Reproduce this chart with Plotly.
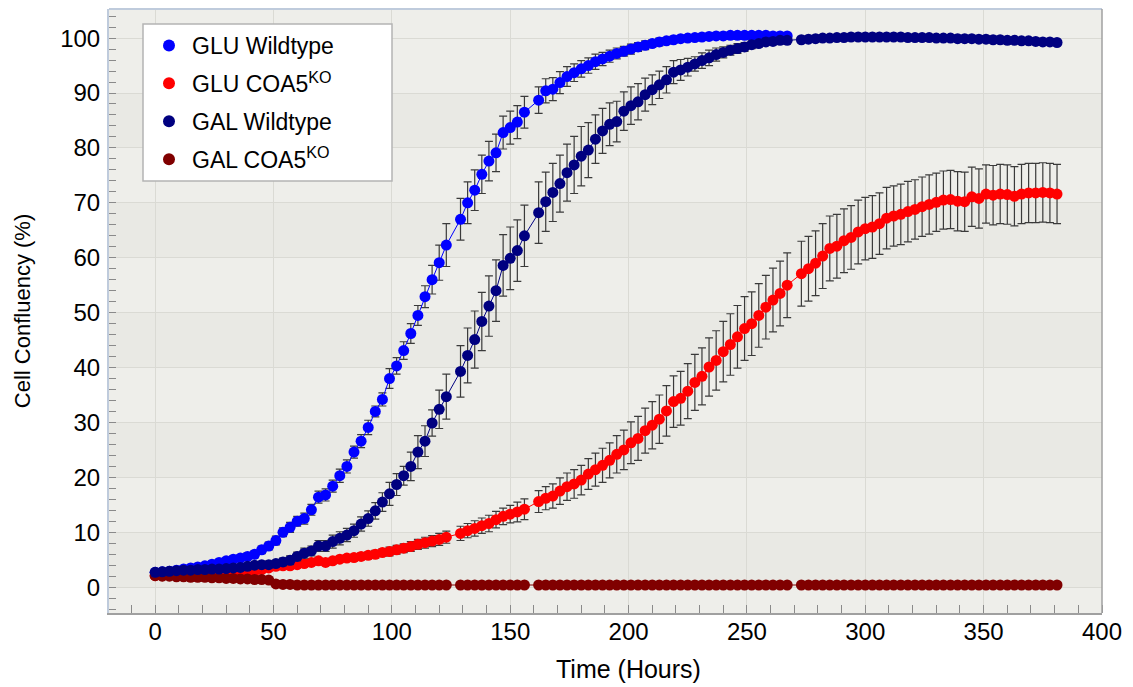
import plotly.graph_objects as go

# ---------------- data ----------------
TIME_HOURS = [0, 3, 6, 9, 12, 15, 18, 21, 24, 27, 30, 33, 36, 39, 42, 45, 48, 51, 54, 57,
              60, 63, 66, 69, 72, 75, 78, 81, 84, 87, 90, 93, 96, 99, 102, 105, 108, 111, 114, 117,
              120, 123, 129, 132, 135, 138, 141, 144, 147, 150, 153, 156, 162, 165, 168, 171, 174, 177, 180, 183,
              186, 189, 192, 195, 198, 201, 204, 207, 210, 213, 216, 219, 222, 225, 228, 231, 234, 237, 240, 243,
              246, 249, 252, 255, 258, 261, 264, 267, 273, 276, 279, 282, 285, 288, 291, 294, 297, 300, 303, 306,
              309, 312, 315, 318, 321, 324, 327, 330, 333, 336, 339, 342, 345, 348, 351, 354, 357, 360, 363, 366,
              369, 372, 375, 378, 381]

TIME_GLU_WT = TIME_HOURS[:88]

glu_wt = [2.7, 2.8, 2.9, 3.1, 3.3, 3.5, 3.7, 3.9, 4.2, 4.5, 4.8, 5.1, 5.3, 5.6, 6.0, 6.8, 7.5, 8.5, 10.0, 10.9,
          12.0, 12.5, 14.1, 16.4, 16.8, 18.4, 20.3, 22.0, 24.6, 26.6, 29.1, 32.0, 34.2, 38.0, 40.3, 43.1, 46.2, 49.5, 52.9, 56.0,
          59.1, 62.3,
          67.0, 70.0, 72.3, 75.2, 77.6, 79.1, 82.8, 83.7, 84.7, 86.5,
          88.7, 90.4, 90.7, 91.9, 93.0, 93.7, 94.4, 95.0, 95.7, 96.2, 96.7, 97.2, 97.6, 98.0, 98.4, 98.7, 99.0, 99.3, 99.5, 99.7,
          99.9, 100.0, 100.1, 100.2, 100.3, 100.4, 100.4, 100.5, 100.5, 100.5, 100.5, 100.5, 100.5, 100.4, 100.4, 100.4]
glu_wt_err = [0.2, 0.2, 0.2, 0.3, 0.3, 0.3, 0.3, 0.4, 0.4, 0.4, 0.5, 0.5, 0.5, 0.6, 0.6, 0.7, 0.7, 0.8, 0.8, 0.9,
              0.9, 1.0, 1.0, 1.1, 1.1, 1.1, 1.2, 1.2, 1.1, 1.2, 1.3, 1.0, 1.2, 1.8, 1.5, 1.6, 1.8, 1.8, 2.0, 2.6,
              3.2, 3.9,
              3.8, 3.8, 3.7, 3.5, 3.6, 3.4, 3.0, 3.0, 3.0, 2.9,
              2.4, 2.2, 2.1, 2.0, 1.8, 1.6, 1.5, 1.4, 1.4, 1.2, 1.1, 1.0, 0.9, 0.9, 0.8, 0.8, 0.7, 0.7, 0.6, 0.6,
              0.5, 0.5, 0.5, 0.4, 0.4, 0.4, 0.3, 0.3, 0.3, 0.3, 0.3, 0.3, 0.3, 0.3, 0.3, 0.3]

glu_ko = [2.1, 2.1, 2.2, 2.2, 2.3, 2.3, 2.4, 2.4, 2.5, 2.5, 2.6, 2.6, 2.7, 2.8, 2.9, 3.2, 3.5, 3.8, 3.9, 3.9,
          4.1, 4.3, 4.5, 4.8, 4.5, 4.8, 5.1, 5.3, 5.4, 5.6, 5.8, 6.0, 6.3, 6.5, 6.8, 7.1, 7.4, 7.8, 8.1, 8.4,
          8.7, 9.1,
          9.8, 10.3, 10.7, 11.2, 11.6, 12.3, 12.9, 13.3, 13.7, 14.2,
          15.6, 16.2, 16.6, 17.5, 18.3, 18.8, 19.5, 20.6, 21.4, 22.2, 23.1, 24.2, 25.0, 26.3, 27.1, 28.5, 29.5, 30.6, 32.1, 33.8,
          34.4, 35.7, 37.3, 38.4, 40.1, 41.3, 42.9, 44.2, 45.6, 47.1, 48.0, 49.5, 51.0, 52.3, 53.5, 55.0,
          57.1, 58.0, 59.0, 60.3, 61.7, 62.1, 63.1, 63.7, 64.7, 65.3, 65.6, 66.2, 67.2, 67.6, 67.9, 68.4, 68.8, 69.3, 69.7, 70.1,
          70.5, 70.6, 70.3, 70.2, 71.1, 70.8, 71.6, 71.4, 71.6, 71.5, 71.2, 71.6, 71.8, 71.8, 71.9, 71.8, 71.6]
glu_ko_err = [0.2, 0.2, 0.2, 0.2, 0.2, 0.2, 0.2, 0.3, 0.3, 0.3, 0.3, 0.3, 0.3, 0.3, 0.3, 0.3, 0.4, 0.4, 0.4, 0.4,
              0.4, 0.5, 0.5, 0.5, 0.5, 0.5, 0.5, 0.6, 0.6, 0.6, 0.6, 0.7, 0.7, 0.8, 0.8, 0.8, 0.9, 0.9, 1.0, 1.0,
              1.1, 1.1,
              1.3, 1.3, 1.4, 1.4, 1.5, 1.5, 1.5, 1.6, 1.8, 1.9,
              2.0, 2.1, 2.2, 2.4, 2.5, 2.6, 2.7, 2.8, 3.0, 3.1, 3.2, 3.4, 3.6, 3.8, 4.0, 4.1, 4.3, 4.4, 4.6, 4.7,
              4.9, 5.0, 5.1, 5.2, 5.3, 5.4, 5.5, 5.6, 5.7, 5.8, 5.8, 5.8, 5.8, 5.8, 5.9, 5.9,
              5.9, 5.9, 5.9, 5.9, 5.9, 5.8, 5.8, 5.8, 5.8, 5.7, 5.7, 5.6, 5.6, 5.5, 5.5, 5.5, 5.4, 5.4, 5.4, 5.3,
              5.3, 5.3, 5.4, 5.4, 5.4, 5.4, 5.3, 5.4, 5.4, 5.4, 5.4, 5.4, 5.4, 5.4, 5.4, 5.4, 5.4]

gal_wt = [2.7, 2.8, 2.9, 3.0, 3.1, 3.1, 3.2, 3.2, 3.3, 3.3, 3.4, 3.5, 3.6, 3.8, 4.0, 4.1, 4.1, 4.3, 4.6, 4.9,
          5.6, 6.2, 6.6, 7.5, 7.5, 8.3, 8.9, 9.5, 10.3, 11.5, 12.5, 13.9, 15.5, 17.0, 18.7, 20.3, 22.0, 24.6, 26.6, 29.9,
          32.4, 34.7,
          39.3, 42.2, 45.1, 48.4, 51.2, 54.0, 58.6, 59.9, 61.3, 64.0,
          68.2, 70.2, 71.9, 73.5, 75.5, 76.9, 78.5, 79.6, 81.6, 83.1, 84.3, 84.8, 86.7, 87.7, 88.4, 89.7, 90.6, 91.5, 92.4, 93.8,
          94.2, 94.7, 95.3, 95.9, 96.4, 97.0, 97.4, 97.8, 98.1, 98.4, 98.8, 99.0, 99.3, 99.4, 99.6, 99.6,
          99.7, 99.8, 99.9, 100.0, 100.0, 100.1, 100.1, 100.2, 100.2, 100.2, 100.2, 100.2, 100.2, 100.2, 100.2, 100.1, 100.1, 100.1, 100.1, 100.0,
          100.0, 100.0, 99.9, 99.9, 99.9, 99.8, 99.8, 99.7, 99.7, 99.6, 99.6, 99.5, 99.5, 99.4, 99.3, 99.3, 99.2]
gal_wt_err = [0.2, 0.2, 0.2, 0.2, 0.2, 0.3, 0.3, 0.3, 0.3, 0.3, 0.4, 0.4, 0.4, 0.5, 0.5, 0.5, 0.6, 0.6, 0.7, 0.8,
              0.8, 0.9, 0.9, 1.0, 1.0, 1.2, 1.2, 1.2, 1.2, 1.3, 1.4, 1.5, 1.7, 2.1, 2.0, 1.7, 2.6, 3.0, 2.8, 2.4,
              3.5, 4.1,
              4.7, 5.0, 5.2, 5.3, 5.5, 5.6, 5.6, 5.7, 5.6, 5.6,
              5.6, 5.4, 5.3, 5.2, 5.2, 5.2, 5.4, 5.0, 4.4, 4.1, 3.9, 3.7, 3.5, 3.4, 3.3, 3.0, 2.7, 2.5, 2.4, 2.1,
              1.9, 1.6, 1.3, 1.4, 1.4, 1.2, 1.0, 0.9, 0.9, 0.8, 0.7, 0.6, 0.5, 0.5, 0.4, 0.4,
              0.3, 0.3, 0.3, 0.3, 0.3, 0.3, 0.3, 0.3, 0.3, 0.3, 0.3, 0.3, 0.3, 0.3, 0.3, 0.3, 0.3, 0.3, 0.3, 0.3,
              0.3, 0.3, 0.3, 0.3, 0.3, 0.3, 0.3, 0.3, 0.3, 0.3, 0.3, 0.3, 0.3, 0.3, 0.3, 0.3, 0.3]

gal_ko = [2.1, 2.0, 2.0, 1.9, 1.9, 1.8, 1.8, 1.8, 1.7, 1.7, 1.6, 1.6, 1.5, 1.5, 1.4, 1.4, 1.3, 0.6, 0.5, 0.5,
          0.4, 0.4, 0.4, 0.4, 0.4, 0.4, 0.4, 0.4, 0.4, 0.4, 0.4, 0.4, 0.4, 0.4, 0.4, 0.4, 0.4, 0.4, 0.4, 0.4,
          0.4, 0.4,
          0.4, 0.4, 0.4, 0.4, 0.4, 0.4, 0.4, 0.4, 0.4, 0.4,
          0.4, 0.4, 0.4, 0.4, 0.4, 0.4, 0.4, 0.4, 0.4, 0.4, 0.4, 0.4, 0.4, 0.4, 0.4, 0.4, 0.4, 0.4, 0.4, 0.4,
          0.4, 0.4, 0.4, 0.4, 0.4, 0.4, 0.4, 0.4, 0.4, 0.4, 0.4, 0.4, 0.4, 0.4, 0.4, 0.4,
          0.4, 0.4, 0.4, 0.4, 0.4, 0.4, 0.4, 0.4, 0.4, 0.4, 0.4, 0.4, 0.4, 0.4, 0.4, 0.4, 0.4, 0.4, 0.4, 0.4,
          0.4, 0.4, 0.4, 0.4, 0.4, 0.4, 0.4, 0.4, 0.4, 0.4, 0.4, 0.4, 0.4, 0.4, 0.4, 0.4, 0.4]

SERIES_NAMES = ["GLU Wildtype", "GLU COA5<sup>KO</sup>", "GAL Wildtype", "GAL COA5<sup>KO</sup>"]
SERIES_COLORS = ["#0000FF", "#FF0000", "#000080", "#800000"]
X_TICKS = [0, 50, 100, 150, 200, 250, 300, 350, 400]
Y_TICKS = [0, 10, 20, 30, 40, 50, 60, 70, 80, 90, 100]

# ---------------- figure ----------------
FONT = "Liberation Sans, Arial, sans-serif"
ERR_COLOR = "#3A3A3A"

fig = go.Figure()


def add_series(x, y, err, color):
    kw = {}
    if err is not None:
        kw["error_y"] = dict(type="data", array=err, visible=True, color=ERR_COLOR,
                             thickness=1.2, width=4)
    fig.add_trace(go.Scatter(
        x=x, y=y, mode="lines+markers", showlegend=False,
        line=dict(color=color, width=1),
        marker=dict(color=color, size=11, line=dict(width=0)),
        hoverinfo="x+y", **kw))


# drawing order: bottom -> top
add_series(TIME_HOURS, glu_ko, glu_ko_err, SERIES_COLORS[1])
add_series(TIME_GLU_WT, glu_wt, glu_wt_err, SERIES_COLORS[0])
add_series(TIME_HOURS, gal_ko, None, SERIES_COLORS[3])
add_series(TIME_HOURS, gal_wt, gal_wt_err, SERIES_COLORS[2])

# legend entries (marker only)
for i, (name, color) in enumerate(zip(SERIES_NAMES, SERIES_COLORS)):
    fig.add_trace(go.Scatter(
        x=[None], y=[None], mode="markers", name=name, legendgroup=f"g{i}",
        marker=dict(color=color, size=12)))

# page geometry (the html body adds an 8 px offset on the left/top)
OFF = 8
W, H = 1133, 687
L, R, T, B = 109, 1102, 9, 613          # plot area, page pixels
pw, ph = R - L, B - T


def px(xpix):
    return (xpix - L) / pw


def py(ypix):
    return (B - ypix) / ph


shapes = []
for lo in [0, 20, 40, 60, 80]:
    shapes.append(dict(type="rect", xref="paper", yref="y", x0=0, x1=1, y0=lo, y1=lo + 10,
                       fillcolor="#E9E9E4", line=dict(width=0), layer="below"))
shapes.append(dict(type="line", xref="paper", yref="paper", x0=0, x1=1, y0=1, y1=1,
                   line=dict(color="#BFCBDC", width=2)))
shapes.append(dict(type="line", xref="paper", yref="paper", x0=1, x1=1, y0=0, y1=1,
                   line=dict(color="#A0A0A0", width=1.5)))
shapes.append(dict(type="rect", xref="paper", yref="paper",
                   x0=px(143), x1=px(392), y0=py(181), y1=py(24),
                   fillcolor="white", line=dict(color="#B4B4B4", width=1.5), layer="above"))

fig.update_layout(
    width=W - OFF, height=H - OFF,
    margin=dict(l=L - OFF, r=W - R, t=T - OFF, b=H - B),
    paper_bgcolor="white",
    plot_bgcolor="#EEEEEA",
    font=dict(family=FONT, size=22, color="#000000"),
    showlegend=True,
    legend=dict(x=px(146), y=py(24), xanchor="left", yanchor="top",
                bgcolor="rgba(0,0,0,0)", borderwidth=0,
                font=dict(family=FONT, size=23, color="#000000"),
                itemwidth=36, tracegroupgap=5, traceorder="grouped"),
    shapes=shapes,
    annotations=[dict(text="Time (Hours)", xref="x", yref="paper", x=200, y=py(669),
                      xanchor="center", yanchor="middle", showarrow=False,
                      font=dict(family=FONT, size=25, color="#000000"))],
)

fig.update_xaxes(
    range=[-19.5, 400], tickvals=X_TICKS, ticktext=[str(v) for v in X_TICKS],
    showgrid=True, gridcolor="#DADAD4", gridwidth=1, zeroline=False,
    showline=True, linecolor="#A0A0A0", linewidth=1.5, mirror=False,
    ticks="",
    minor=dict(dtick=10, tick0=0, ticks="inside", ticklen=8, tickcolor="#8A8A8A", tickwidth=1, showgrid=False),
    tickfont=dict(family=FONT, size=24, color="#000000"),
    ticklabelstandoff=-4,
)
fig.update_yaxes(
    range=[-4.7, 105.3], tickvals=Y_TICKS, ticktext=[str(v) for v in Y_TICKS],
    showgrid=True, gridcolor="#DADAD4", gridwidth=1, zeroline=False,
    showline=True, linecolor="#BFCBDC", linewidth=2, mirror=False,
    ticks="",
    minor=dict(dtick=2, tick0=0, ticks="inside", ticklen=7, tickcolor="#8A8A8A", tickwidth=1, showgrid=False),
    tickfont=dict(family=FONT, size=24, color="#000000"),
    ticklabelstandoff=2,
    title=dict(text="Cell Confluency (%)", standoff=23,
               font=dict(family=FONT, size=22, color="#000000")),
)

fig.write_html("out.html")
